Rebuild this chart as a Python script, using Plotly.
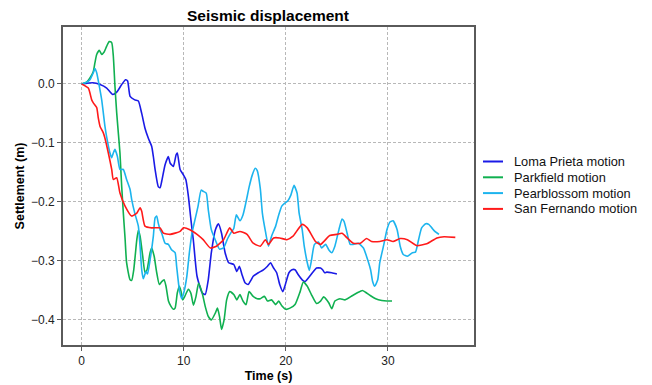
import plotly.graph_objects as go

# Loma Prieta motion
lp_t = [0, 1.1, 1.8, 2.45, 3.04, 3.43, 3.92, 4.3, 4.5, 4.74, 5.2, 5.55, 5.88, 6.2, 6.53, 6.86, 7.02, 7.19,
        7.5, 7.68, 7.84, 8.17, 8.49, 8.66, 8.98, 9.25, 9.37, 9.64, 9.96, 10.2, 10.45, 10.7, 10.94, 11.3,
        11.8, 12.1, 12.4, 12.7, 13.1, 13.4, 13.7, 14.05, 14.4, 14.9, 15.2, 15.45, 15.7, 16.0, 16.3, 16.6,
        16.8, 17.3, 17.8, 18.2, 18.5, 18.8, 19.1, 19.4, 19.7, 19.9, 20.3, 20.6, 20.9, 21.2, 21.6, 21.9,
        22.2, 22.7, 23.0, 23.4, 23.6, 23.8, 24.0, 24.5, 25.0]
lp_y = [0, 0.002, -0.001, -0.007, -0.018, -0.014, -0.001, 0.007, 0.005, -0.021, -0.027, -0.029, -0.05,
        -0.075, -0.092, -0.106, -0.123, -0.145, -0.174, -0.176, -0.165, -0.137, -0.123, -0.134, -0.14,
        -0.12, -0.117, -0.145, -0.154, -0.162, -0.19, -0.23, -0.265, -0.326, -0.354, -0.357, -0.332,
        -0.286, -0.247, -0.237, -0.253, -0.286, -0.303, -0.306, -0.318, -0.309, -0.323, -0.337, -0.34,
        -0.332, -0.326, -0.32, -0.315, -0.309, -0.303, -0.312, -0.32, -0.34, -0.352, -0.343, -0.32,
        -0.315, -0.315, -0.323, -0.332, -0.335, -0.329, -0.318, -0.312, -0.312, -0.315, -0.32, -0.319,
        -0.32, -0.322]

# Parkfield motion
pf_t = [0, 0.49, 0.81, 1.14, 1.3, 1.47, 1.73, 1.96, 2.2, 2.45, 2.7, 2.94, 3.1, 3.26, 3.43, 3.6, 3.75,
        3.92, 4.08, 4.25, 4.4, 4.74, 4.9, 5.1, 5.4, 5.55, 5.72, 5.98, 6.2, 6.4, 6.7, 6.86, 7.1, 7.35, 7.6,
        7.84, 8.07, 8.26, 8.5, 8.75, 8.98, 9.15, 9.37, 9.57, 9.74, 9.9, 10.1, 10.45, 10.7, 10.95, 11.2,
        11.45, 11.8, 12.1, 12.4, 12.7, 13.1, 13.3, 13.5, 13.7, 13.95, 14.2, 14.5, 14.9, 15.2, 15.5, 15.8,
        16.1, 16.4, 16.8, 17.2, 17.5, 17.9, 18.2, 18.6, 19.0, 19.3, 19.6, 20.0, 20.4, 20.9, 21.4, 21.7,
        22.1, 22.5, 23.0, 23.4, 23.7, 24.2, 24.5, 24.8, 25.3, 25.8, 26.5, 27.0, 27.5, 27.8, 28.3, 28.8,
        29.4, 29.9, 30.4]
pf_y = [0, 0.003, 0.01, 0.021, 0.036, 0.05, 0.057, 0.05, 0.054, 0.064, 0.072, 0.07, 0.047, -0.004,
        -0.049, -0.085, -0.117, -0.174, -0.219, -0.262, -0.303, -0.332, -0.333, -0.315, -0.264, -0.248,
        -0.258, -0.292, -0.32, -0.315, -0.286, -0.278, -0.292, -0.32, -0.34, -0.335, -0.332, -0.343,
        -0.368, -0.377, -0.382, -0.38, -0.354, -0.343, -0.352, -0.366, -0.36, -0.348, -0.355, -0.375,
        -0.36, -0.338, -0.354, -0.377, -0.394, -0.4, -0.388, -0.38, -0.394, -0.416, -0.4, -0.366, -0.352,
        -0.357, -0.366, -0.357, -0.368, -0.374, -0.352, -0.36, -0.364, -0.364, -0.36, -0.368, -0.366,
        -0.374, -0.368, -0.376, -0.382, -0.38, -0.374, -0.352, -0.336, -0.343, -0.357, -0.372, -0.368,
        -0.361, -0.371, -0.381, -0.368, -0.364, -0.366, -0.359, -0.354, -0.35, -0.353, -0.359, -0.364,
        -0.367, -0.368, -0.368]

# Pearblossom motion
pb_t = [0, 0.5, 0.81, 1.14, 1.3, 1.47, 1.73, 1.96, 2.12, 2.28, 2.45, 2.77, 2.94, 3.1, 3.26, 3.5, 3.75,
        4.08, 4.4, 4.74, 4.9, 5.2, 5.55, 5.72, 5.88, 6.04, 6.3, 6.45, 6.7, 7.02, 7.19, 7.35, 7.5, 7.68,
        7.84, 8.17, 8.49, 8.8, 9.15, 9.3, 9.57, 9.8, 10.0, 10.3, 10.55, 10.8, 11.1, 11.4, 11.7, 11.9,
        12.2, 12.4, 12.7, 13.1, 13.5, 13.9, 14.3, 14.7, 14.9, 15.15, 15.5, 15.8, 16.1, 16.4, 16.7, 17.0,
        17.2, 17.5, 17.7, 18.0, 18.3, 18.6, 19.0, 19.3, 19.6, 19.9, 20.2, 20.5, 20.8, 21.1, 21.3, 21.6,
        21.8, 22.1, 22.3, 22.5, 22.8, 23.2, 23.5, 23.9, 24.2, 24.5, 24.8, 25.2, 25.5, 25.7, 26.0, 26.3,
        26.6, 27.1, 27.6, 27.9, 28.3, 28.5, 28.7, 29.0, 29.2, 29.6, 29.9, 30.2, 30.5, 30.9, 31.2, 31.5,
        31.9, 32.4, 32.7, 33.0, 33.3, 33.7, 34.0, 34.3, 34.6, 35.0]
pb_y = [0, 0.003, 0.007, 0.019, 0.026, 0.019, -0.004, -0.027, -0.049, -0.072, -0.09, -0.117, -0.125,
        -0.117, -0.111, -0.123, -0.145, -0.145, -0.162, -0.179, -0.196, -0.219, -0.241, -0.275, -0.315,
        -0.33, -0.318, -0.322, -0.298, -0.258, -0.227, -0.224, -0.236, -0.247, -0.253, -0.27, -0.272,
        -0.281, -0.286, -0.309, -0.349, -0.364, -0.354, -0.326, -0.286, -0.253, -0.23, -0.207, -0.18,
        -0.182, -0.185, -0.213, -0.247, -0.265, -0.28, -0.278, -0.262, -0.25, -0.245, -0.222, -0.232,
        -0.222, -0.2, -0.175, -0.155, -0.143, -0.147, -0.178, -0.219, -0.25, -0.275, -0.258, -0.241,
        -0.222, -0.207, -0.202, -0.198, -0.188, -0.172, -0.185, -0.219, -0.247, -0.275, -0.303, -0.316,
        -0.3, -0.272, -0.268, -0.278, -0.272, -0.281, -0.286, -0.275, -0.247, -0.229, -0.233, -0.253,
        -0.272, -0.272, -0.27, -0.278, -0.292, -0.315, -0.335, -0.343, -0.332, -0.303, -0.272, -0.247,
        -0.234, -0.232, -0.247, -0.275, -0.289, -0.292, -0.286, -0.285, -0.264, -0.244, -0.237, -0.238,
        -0.244, -0.25, -0.255]

# San Fernando motion
sf_t = [0, 0.65, 0.98, 1.14, 1.47, 1.63, 1.8, 2.12, 2.28, 2.61, 2.94, 3.1, 3.43, 3.75, 4.25, 4.9, 5.4,
        5.72, 5.88, 6.2, 6.86, 7.68, 8.0, 8.66, 9.64, 9.96, 10.6, 11.3, 11.9, 12.6, 13.2, 13.9, 14.5,
        14.9, 15.5, 16.2, 16.8, 17.5, 18.0, 18.3, 18.8, 19.4, 20.1, 20.7, 21.6, 22.1, 22.9, 23.4, 24.3,
        25.0, 25.5, 26.0, 26.6, 27.3, 27.9, 28.4, 29.2, 29.9, 30.5, 31.2, 31.9, 32.8, 33.8, 34.8, 35.5,
        36.6]
sf_y = [0, -0.007, -0.027, -0.032, -0.04, -0.058, -0.072, -0.083, -0.092, -0.117, -0.145, -0.162,
        -0.159, -0.185, -0.207, -0.224, -0.219, -0.21, -0.216, -0.241, -0.244, -0.244, -0.253, -0.255,
        -0.25, -0.244, -0.247, -0.255, -0.264, -0.278, -0.275, -0.264, -0.244, -0.253, -0.25, -0.255,
        -0.27, -0.275, -0.264, -0.272, -0.261, -0.261, -0.264, -0.258, -0.238, -0.244, -0.267, -0.272,
        -0.257, -0.255, -0.253, -0.261, -0.27, -0.27, -0.262, -0.267, -0.267, -0.264, -0.267, -0.262,
        -0.264, -0.274, -0.271, -0.261, -0.259, -0.26]

x_ticks = [0, 10, 20, 30]
y_ticks = [0.0, -0.1, -0.2, -0.3, -0.4]

series = [
    ("Loma Prieta motion", lp_t, lp_y, "#1a1ae6"),
    ("Parkfield motion", pf_t, pf_y, "#10b050"),
    ("Pearblossom motion", pb_t, pb_y, "#1cb4ee"),
    ("San Fernando motion", sf_t, sf_y, "#ff1a1a"),
]

font_family = "Liberation Sans, Arial, sans-serif"
OFF = 8                      # the page body adds an 8px margin; draw the figure smaller to compensate
W, H = 652 - OFF, 385 - OFF
L, R, T, B = 63 - OFF, 474 - OFF, 27 - OFF, 345 - OFF   # plot-area frame in figure pixels
pw, ph = R - L, B - T

fig = go.Figure()
for name, t, y, c in series:
    fig.add_trace(go.Scatter(x=t, y=y, name=name, mode="lines", showlegend=False,
                             line=dict(color=c, width=1.6, shape="spline", smoothing=0.5)))

# legend drawn beside the plot area
shapes, annotations = [], []
for i, (name, _, _, c) in enumerate(series):
    ypx = 161.5 + 15.8 * i - OFF
    yp = (B - ypx) / ph
    shapes.append(dict(type="line", xref="paper", yref="paper",
                       x0=(483 - OFF - L) / pw, x1=(503 - OFF - L) / pw, y0=yp, y1=yp,
                       line=dict(color=c, width=2)))
    annotations.append(dict(text=name, xref="paper", yref="paper", x=(512 - OFF - L) / pw, y=yp,
                            xanchor="left", yanchor="middle", showarrow=False,
                            font=dict(size=12.8, color="#111", family=font_family)))

fig.update_layout(
    width=W, height=H,
    margin=dict(l=L, r=W - R, t=T, b=H - B, autoexpand=False),
    paper_bgcolor="white", plot_bgcolor="white",
    font=dict(family=font_family, size=12, color="black"),
    title=dict(text="<b>Seismic displacement</b>", x=(268 - OFF) / W, xref="container",
               xanchor="center", y=1 - (15.5 - OFF) / H, yanchor="middle", automargin=False,
               font=dict(size=15.5, family=font_family, color="black")),
    showlegend=False,
    shapes=shapes, annotations=annotations,
)

fig.update_xaxes(range=[-1.83, 38.43], tickvals=x_ticks, ticktext=[str(v) for v in x_ticks],
                 showgrid=True, gridcolor="#b8b8b8", griddash="3px,2px", gridwidth=0.8,
                 showline=True, linecolor="#5a5a5a", linewidth=1.8, mirror=True,
                 ticks="outside", ticklen=4, tickcolor="#5a5a5a", zeroline=False, automargin=False,
                 tickfont=dict(size=12, color="#222"),
                 title=dict(text="<b>Time (s)</b>", font=dict(size=12.5), standoff=4))
fig.update_yaxes(range=[-0.4425, 0.0965], tickvals=y_ticks, tickformat=".1f",
                 showgrid=True, gridcolor="#b8b8b8", griddash="3px,2px", gridwidth=0.8,
                 showline=True, linecolor="#5a5a5a", linewidth=1.8, mirror=True,
                 ticks="outside", ticklen=4, tickcolor="#5a5a5a", zeroline=False, automargin=False,
                 tickfont=dict(size=12, color="#222"),
                 title=dict(text="<b>Settlement (m)</b>", font=dict(size=12.5), standoff=4))

fig.write_html("out.html")
